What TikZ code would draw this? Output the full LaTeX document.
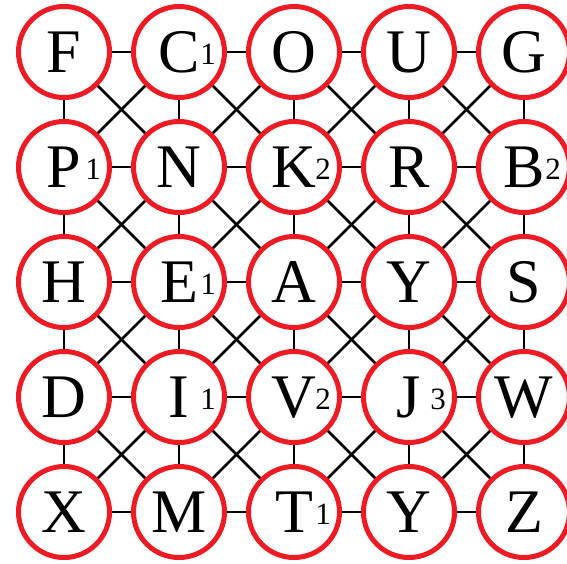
\documentclass[tikz,border=0pt]{standalone}
\usepackage{fontspec}
\setmainfont{Liberation Serif}
\usepackage{tikz}
\definecolor{ringred}{RGB}{237,28,36}
\tikzset{every picture/.style={line width=1.4pt}}
\tikzset{
  ring/.style={circle, draw=ringred, line width=2.5pt, fill=white,
    minimum size=45.5pt, inner sep=0pt, text height=20.5pt, text depth=0pt,
    font=\fontsize{31}{32}\selectfont},
  tag/.style={inner sep=0pt, font=\fontsize{15.5}{16}\selectfont}
}

\begin{document}
\begin{tikzpicture}[x=0.5pt,y=-0.5pt]
\useasboundingbox (0,0) rectangle (567,563);
\foreach \row [count=\j] in {{F,C,O,U,G},{P,N,K,R,B},{H,E,A,Y,S},{D,I,V,J,W},{X,M,T,Y,Z}}{
  \foreach \l [count=\i] in \row
    \node[ring] (n\i\j) at ({64+115*(\i-1)},{52+115*(\j-1)}) {\l};
}
\foreach \i/\j/\d in {2/1/1, 1/2/1, 3/2/2, 5/2/2, 2/3/1, 2/4/1, 3/4/2, 4/4/3, 3/5/1}
  \node[tag] (d\i\j) at ({93+115*(\i-1)},{54+115*(\j-1)}) {\d};
\foreach \a [count=\b from 2] in {1,...,4}{
  \foreach \c in {1,...,5}{
    \draw (n\a\c) -- (n\b\c);
    \draw (n\c\a) -- (n\c\b);
  }
  \foreach \c [count=\e from 2] in {1,...,4}{
    \draw (n\a\c) -- (n\b\e);
    \draw (n\b\c) -- (n\a\e);
  }
}
\end{tikzpicture}
\end{document}
